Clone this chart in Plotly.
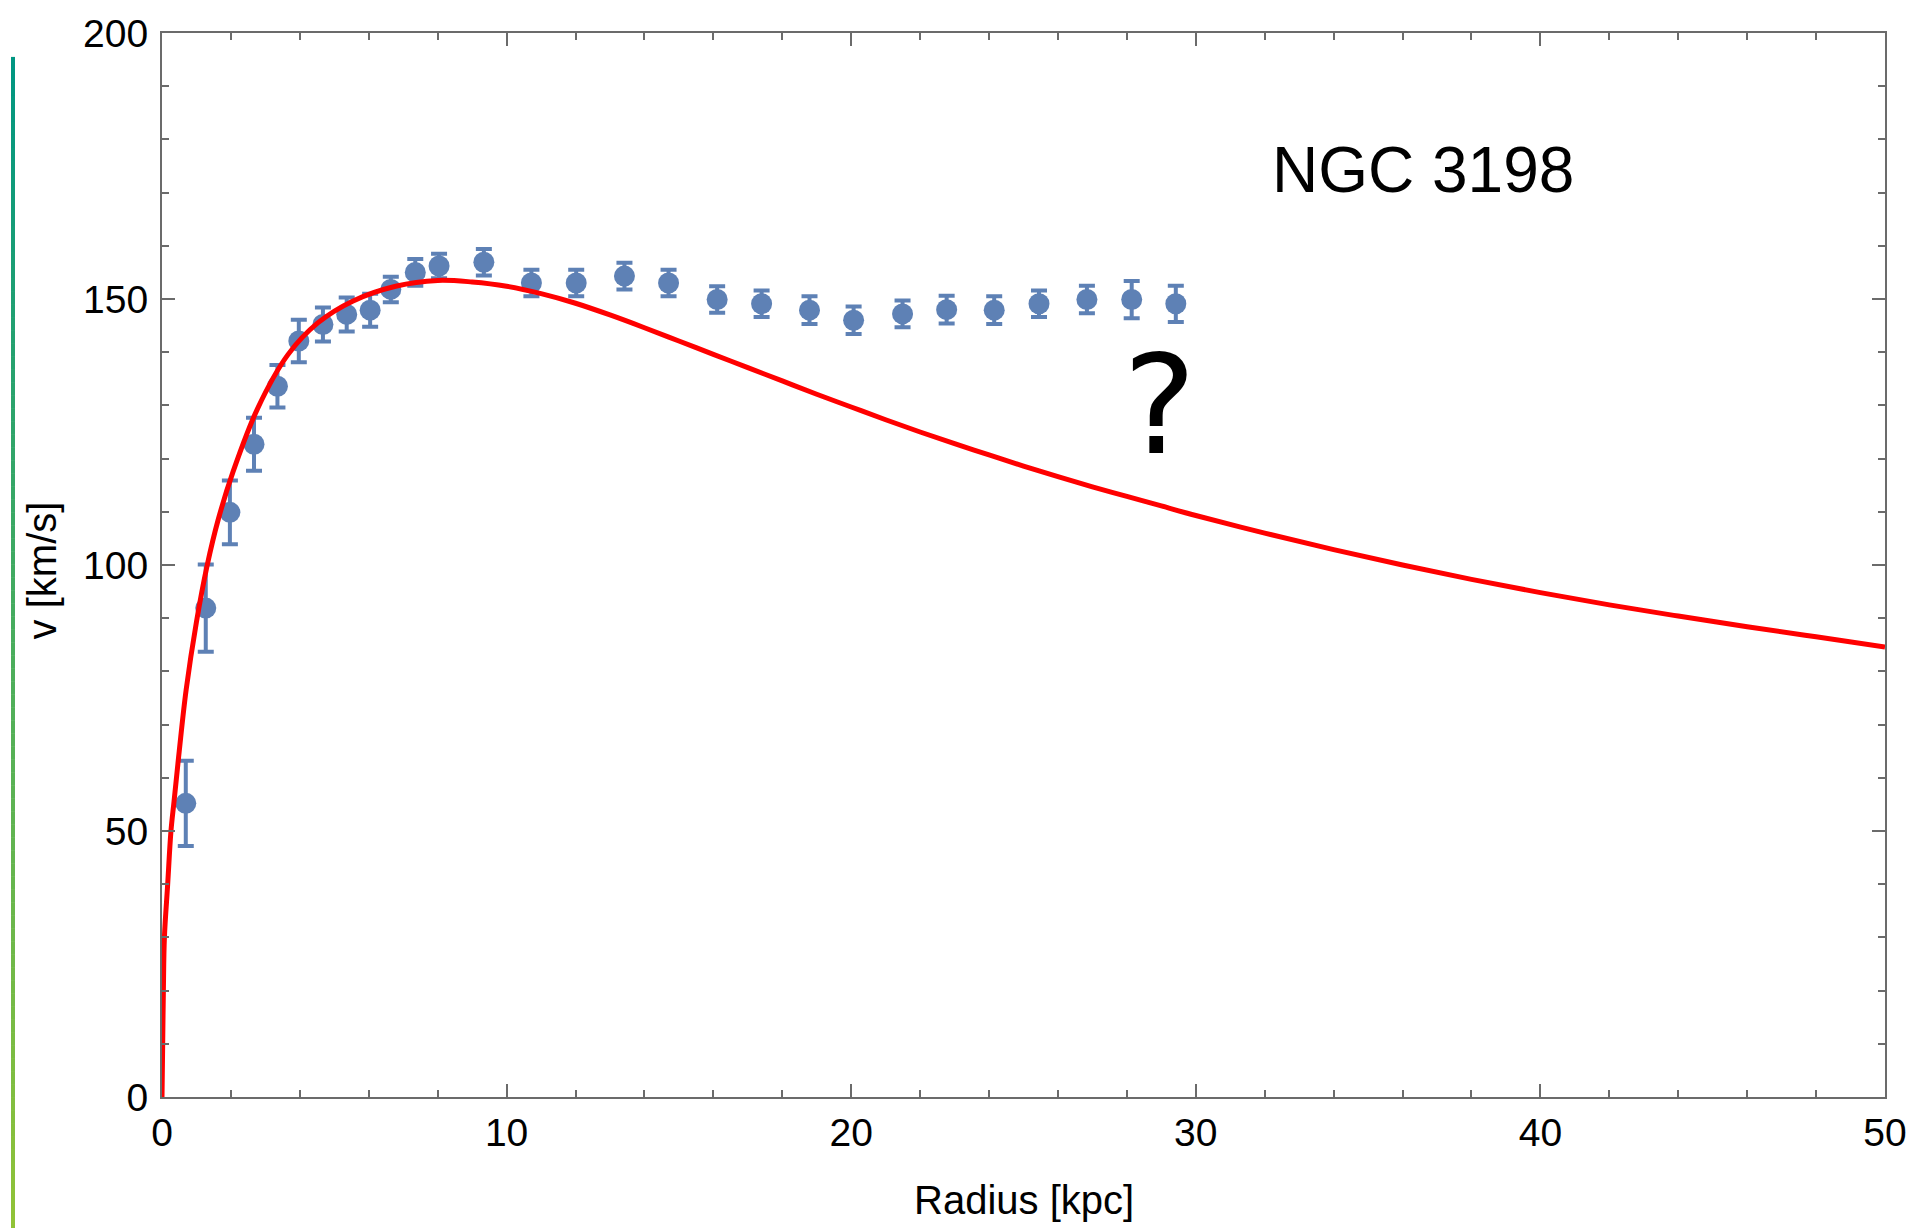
import plotly.graph_objects as go

# Observed rotation curve of NGC 3198
radius_kpc = [0.69, 1.27, 1.97, 2.67, 3.35, 3.97, 4.67, 5.36, 6.04, 6.64, 7.35, 8.04,
              9.34, 10.72, 12.02, 13.42, 14.70, 16.11, 17.40, 18.79, 20.07, 21.49,
              22.77, 24.15, 25.45, 26.84, 28.14, 29.42]
v_obs = [55.2, 91.9, 109.9, 122.7, 133.6, 142.1, 145.2, 147.1, 147.9, 151.8, 155.0, 156.2,
         156.9, 153.0, 153.0, 154.3, 153.0, 149.9, 149.1, 147.9, 146.0, 147.2,
         148.0, 147.9, 149.1, 149.9, 149.9, 149.1]
v_err = [8.0, 8.2, 6.0, 5.0, 4.0, 4.0, 3.2, 3.2, 3.1, 2.4, 2.5, 2.3,
         2.5, 2.5, 2.5, 2.5, 2.5, 2.5, 2.5, 2.6, 2.6, 2.5,
         2.6, 2.6, 2.5, 2.6, 3.5, 3.4]

# Velocity expected from the visible mass
radius_model = [0, 0.02, 0.04, 0.07, 0.165, 0.26, 0.35, 0.5, 0.7, 1.0, 1.31, 1.63,
                2.06, 2.78, 3.65, 4.52, 5.53, 6.78, 8.0, 9.0, 10.0, 11.0, 12.0,
                13.0, 14.0, 15.0, 16.0, 17.0, 18.0, 19.0, 20.0, 21.0, 22.0, 23.0,
                24.0, 25.0, 26.0, 27.0, 28.0, 29.0, 30.0, 32.0, 34.0, 36.0, 38.0,
                40.0, 42.0, 44.0, 46.0, 48.0, 50.0]
v_model = [0, 10, 20, 30, 40, 50, 55.6, 65.0, 76.5, 89.3, 99.9, 108.5,
           117.5, 129.5, 139.5, 145.5, 149.6, 152.4, 153.5, 153.2, 152.4, 151.0, 149.2,
           147.0, 144.6, 142.1, 139.6, 137.1, 134.6, 132.1, 129.7, 127.3, 125.0, 122.8,
           120.7, 118.6, 116.6, 114.7, 112.9, 111.1, 109.3, 106.0, 102.9, 100.0, 97.3,
           94.8, 92.5, 90.4, 88.4, 86.5, 84.6]

x_ticks = [0, 10, 20, 30, 40, 50]
y_ticks = [0, 50, 100, 150, 200]

W, H = 1919, 1228
L, R, T, B = 162, 28, 29, 131
AX = "#6b6b6b"
BLUE = "#5E81B5"
TICK_FONT = dict(family="Liberation Sans, Arial, sans-serif", size=39, color="black")

fig = go.Figure()

fig.add_trace(go.Scatter(
    x=radius_kpc, y=v_obs, mode="markers",
    marker=dict(size=21, color=BLUE, line=dict(width=0)),
    error_y=dict(type="data", array=v_err, visible=True, color=BLUE,
                 thickness=4, width=8),
    showlegend=False, cliponaxis=False,
))

fig.add_trace(go.Scatter(
    x=radius_model, y=v_model, mode="lines",
    line=dict(color="#FF0000", width=5, shape="spline", smoothing=1.0),
    showlegend=False,
))

axis_style = dict(
    showline=True, linecolor=AX, linewidth=2, mirror="ticks",
    ticks="inside", tickcolor=AX, tickwidth=2, ticklen=13,
    showgrid=False, zeroline=False, tickfont=TICK_FONT,
)

fig.update_xaxes(range=[0, 50], tickvals=x_ticks, ticklabelstandoff=0,
                 minor=dict(dtick=2, tick0=0, ticks="inside", ticklen=7,
                            tickcolor=AX, tickwidth=2, showgrid=False),
                 **axis_style)
fig.update_yaxes(range=[0, 200], tickvals=y_ticks, ticklabelstandoff=4,
                 minor=dict(dtick=10, tick0=0, ticks="inside", ticklen=7,
                            tickcolor=AX, tickwidth=2, showgrid=False),
                 **axis_style)

pw, ph = W - L - R, H - T - B


def px_x(p):
    return (p - L) / pw


def px_y(p):
    return (H - B - p) / ph


# Decorative vertical bar on the left edge, shaded teal to green
top_c = (0, 150, 130)
bot_c = (145, 195, 55)
y0_px, y1_px = 53, 1228
n = 90
shapes = []
for i in range(n):
    t0 = i / n
    t1 = (i + 1) / n
    tm = (t0 + t1) / 2
    c = tuple(round(a + (b - a) * tm) for a, b in zip(top_c, bot_c))
    shapes.append(dict(
        type="line", xref="paper", yref="paper",
        x0=px_x(12.5), x1=px_x(12.5),
        y0=px_y(y0_px + (y1_px - y0_px) * t0),
        y1=px_y(y0_px + (y1_px - y0_px) * t1 + 0.5),
        line=dict(color="rgb(%d,%d,%d)" % c, width=4),
    ))

annotations = [
    dict(text="NGC 3198", x=36.6, y=174.2, xref="x", yref="y", showarrow=False,
         xanchor="center", yanchor="middle",
         font=dict(family="Liberation Sans, Arial, sans-serif", size=64, color="black")),
    dict(text="?", x=28.95, y=130, xref="x", yref="y", showarrow=False,
         xanchor="center", yanchor="middle",
         font=dict(family="DejaVu Sans, sans-serif", size=138, color="black")),
    dict(text="Radius [kpc]", x=0.5, y=px_y(1200), xref="paper", yref="paper",
         showarrow=False, xanchor="center", yanchor="middle",
         font=dict(family="Liberation Sans, Arial, sans-serif", size=40, color="black")),
    dict(text="v [km/s]", x=px_x(42), y=px_y(568), xref="paper", yref="paper",
         showarrow=False, xanchor="center", yanchor="middle", textangle=-90,
         font=dict(family="Liberation Sans, Arial, sans-serif", size=40, color="black")),
]

fig.update_layout(
    width=W, height=H, autosize=False,
    margin=dict(l=L, r=R, t=T, b=B, pad=0),
    paper_bgcolor="white", plot_bgcolor="white",
    shapes=shapes, annotations=annotations,
)

fig.write_html("out.html")
